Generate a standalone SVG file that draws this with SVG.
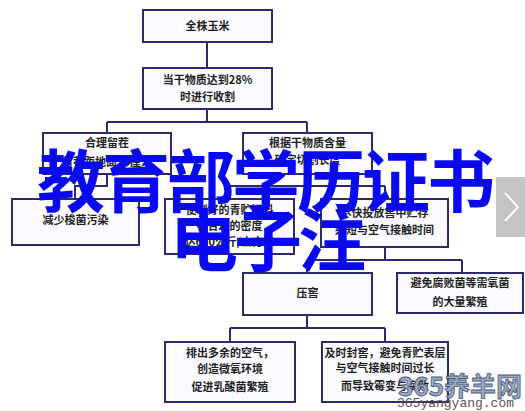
<svg xmlns="http://www.w3.org/2000/svg" width="525" height="411" viewBox="0 0 525 411">
<style>
.box{fill:#fbfbff;stroke:#2b2b6b;stroke-width:2}
.t{font-family:"Noto Sans CJK SC","Noto Sans",sans-serif;font-size:11px;font-weight:bold;fill:#1e1e1e;text-anchor:middle}
.c{fill:none;stroke:#2b2b6b;stroke-width:2}
.big{font-family:"Noto Sans CJK SC","Noto Sans",sans-serif;font-size:68px;font-weight:bold;fill:#0a0af0}
</style>
<rect width="525" height="411" fill="#ffffff"/>
<g id="connectors">
<path class="c" d="M207,42V68"/>
<path class="c" d="M207,109V122M107,122H307M107,122V133M307,122V133"/>
<path class="c" d="M107,174V186H75V199"/>
<path class="c" d="M307,174V186M230,186H385M230,186V199M385,186V199"/>
<path class="c" d="M385,247V260M307,260H462M307,260V273M462,260V273"/>
<path class="c" d="M307,315V328M230,328H385M230,328V342M385,328V342"/>
</g>
<g id="n1"><rect class="box" x="143" y="10" width="129" height="32"/><text class="t" x="207.5" y="30">全株玉米</text></g>
<g id="n2"><rect class="box" x="143" y="68" width="129" height="41"/><text class="t" x="207.5" y="84">当干物质达到28%</text><text class="t" x="207.5" y="101">时进行收割</text></g>
<g id="n3"><rect class="box" x="43" y="133" width="128" height="41"/><text class="t" x="107" y="147">合理留茬</text><text class="t" x="107" y="166">留茬距地面15厘米</text></g>
<g id="n4"><rect class="box" x="243" y="133" width="129" height="41"/><text class="t" x="307.5" y="147">根据干物质含量</text><text class="t" x="307.5" y="164">确定切割长度</text></g>
<g id="n5"><rect class="box" x="12" y="199" width="127" height="46"/><text class="t" x="75.5" y="224">减少梭菌污染</text></g>
<g id="n6"><rect class="box" x="165" y="199" width="129" height="55"/><text class="t" x="229.5" y="214">使制好的青贮饲料</text><text class="t" x="229.5" y="230">在合理的密度</text><text class="t" x="229.5" y="246">达650公斤/立方米</text></g>
<g id="n7"><rect class="box" x="321" y="199" width="127" height="48"/><text class="t" x="384.5" y="217">尽快投放窖中贮存</text><text class="t" x="384.5" y="234">缩短与空气接触时间</text></g>
<g id="n8"><rect class="box" x="243" y="273" width="129" height="42"/><text class="t" x="307.5" y="297">压窖</text></g>
<g id="n9"><rect class="box" x="397" y="273" width="126" height="40"/><text class="t" x="460" y="287">避免腐败菌等需氧菌</text><text class="t" x="460" y="306">的大量繁殖</text></g>
<g id="n10"><rect class="box" x="165" y="342" width="130" height="60"/><text class="t" x="230" y="357">排出多余的空气，</text><text class="t" x="230" y="373">创造微氧环境</text><text class="t" x="230" y="391">促进乳酸菌繁殖</text></g>
<g id="n11"><rect class="box" x="322" y="342" width="126" height="60"/><text class="t" x="385" y="357">及时封窖，避免青贮表层</text><text class="t" x="385" y="372">与空气接触时间过长</text><text class="t" x="385" y="390">而导致霉变与腐败</text></g>
<text class="big" x="37" y="207" letter-spacing="-3">教育部学历证书</text>
<text class="big" x="170" y="266" letter-spacing="-4">电子注</text>
<rect x="496" y="177" width="29" height="60" fill="#c4c4c4"/>
<path d="M505,193L518,207L505,221" fill="none" stroke="#ffffff" stroke-width="2"/>
<text x="398" y="396" font-family="'Noto Sans CJK SC',sans-serif" font-size="26" font-weight="bold" fill="#9aaac2" stroke="#4a5878" stroke-width="0.8">365养羊网</text>
<text x="397" y="406.5" font-family="'Liberation Mono',monospace" font-size="13" fill="#555555">365yangyang.com</text>
</svg>
